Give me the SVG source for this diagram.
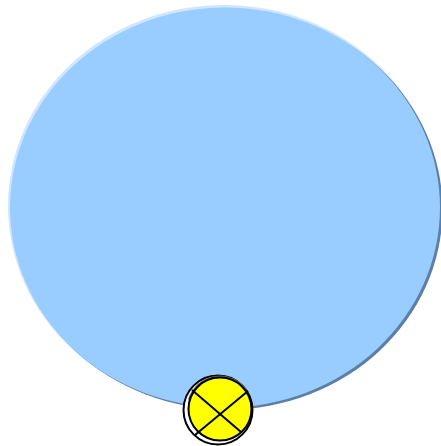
<svg xmlns="http://www.w3.org/2000/svg" width="441" height="446" viewBox="0 0 441 446">
<style>
.hl{fill:#cfe6ff}
.sh{fill:#5b7fa6}
.main{fill:#99ccff}
.ink{stroke:#000;stroke-width:2;fill:none}
</style>
<rect width="441" height="446" fill="#ffffff"/>
<g id="ellipse-node">
<ellipse class="hl" cx="224" cy="206" rx="216" ry="201"/>
<ellipse class="sh" cx="227.5" cy="209.5" rx="215" ry="200"/>
<ellipse class="main" cx="225" cy="207.5" rx="215" ry="200"/>
</g>
<g id="connectors"></g>
<g id="junction-node">
<circle cx="218" cy="410" r="34.5" fill="#ffffff" stroke="#000" stroke-width="2"/>
<path d="M190,400 A31,31 0 0 1 246,392" stroke="#666" stroke-width="4" fill="none"/>
<circle cx="220" cy="409" r="31.5" fill="#ffff00" stroke="#000" stroke-width="2"/>
<line class="ink" x1="192" y1="390" x2="241" y2="432"/>
<line class="ink" x1="248" y1="391" x2="195" y2="435"/>
</g>
</svg>
